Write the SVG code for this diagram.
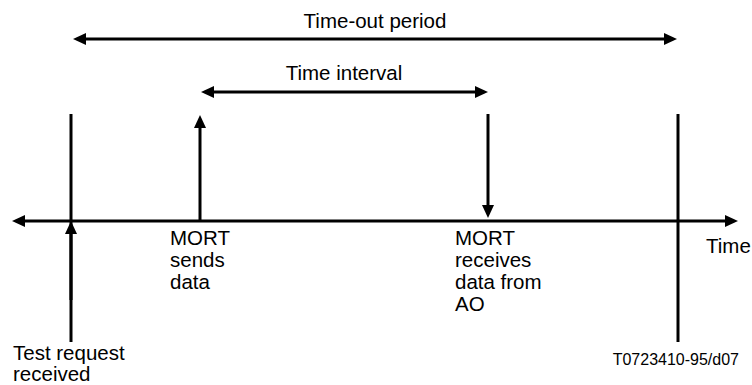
<svg xmlns="http://www.w3.org/2000/svg" width="752" height="385" viewBox="0 0 752 385">
<style>
.ln{stroke:#000;stroke-width:3;fill:none}
.t{font-family:"Liberation Sans",Arial,sans-serif;font-size:20.5px;fill:#000}
.s{font-family:"Liberation Sans",Arial,sans-serif;font-size:16px;fill:#000}
</style>
<defs>
<marker id="ah" markerUnits="userSpaceOnUse" markerWidth="13" markerHeight="13" refX="6" refY="6.5" orient="auto-start-reverse">
<path d="M0,0.5 L13,6.5 L0,12.5 z" fill="#000"/>
</marker>
</defs>
<rect width="752" height="385" fill="#fff"/>
<g id="connectors">
<line class="ln" x1="80" y1="39" x2="670" y2="39" marker-start="url(#ah)" marker-end="url(#ah)"/>
<line class="ln" x1="208" y1="92" x2="481" y2="92" marker-start="url(#ah)" marker-end="url(#ah)"/>
<line class="ln" x1="19" y1="221" x2="731" y2="221" marker-start="url(#ah)" marker-end="url(#ah)"/>
<line class="ln" x1="71" y1="114" x2="71" y2="342"/>
<line class="ln" x1="71" y1="300" x2="71" y2="228" marker-end="url(#ah)"/>
<line class="ln" x1="200" y1="221" x2="200" y2="122" marker-end="url(#ah)"/>
<line class="ln" x1="488" y1="114" x2="488" y2="211" marker-end="url(#ah)"/>
<line class="ln" x1="678" y1="114" x2="678" y2="342"/>
</g>
<g id="timeout-label"><text class="t" x="375" y="28" text-anchor="middle">Time-out period</text></g>
<g id="interval-label"><text class="t" x="344" y="80" text-anchor="middle">Time interval</text></g>
<g id="mort-sends"><text class="t" x="170" y="245"><tspan x="170">MORT</tspan><tspan x="170" dy="22">sends</tspan><tspan x="170" dy="22">data</tspan></text></g>
<g id="mort-receives"><text class="t" x="455" y="245"><tspan x="455">MORT</tspan><tspan x="455" dy="22">receives</tspan><tspan x="455" dy="22">data from</tspan><tspan x="455" dy="22">AO</tspan></text></g>
<g id="time-label"><text class="t" x="706" y="253">Time</text></g>
<g id="test-request"><text class="t" x="13" y="360"><tspan x="13">Test request</tspan><tspan x="13" dy="21">received</tspan></text></g>
<g id="ref"><text class="s" x="739" y="365" text-anchor="end">T0723410-95/d07</text></g>
</svg>
